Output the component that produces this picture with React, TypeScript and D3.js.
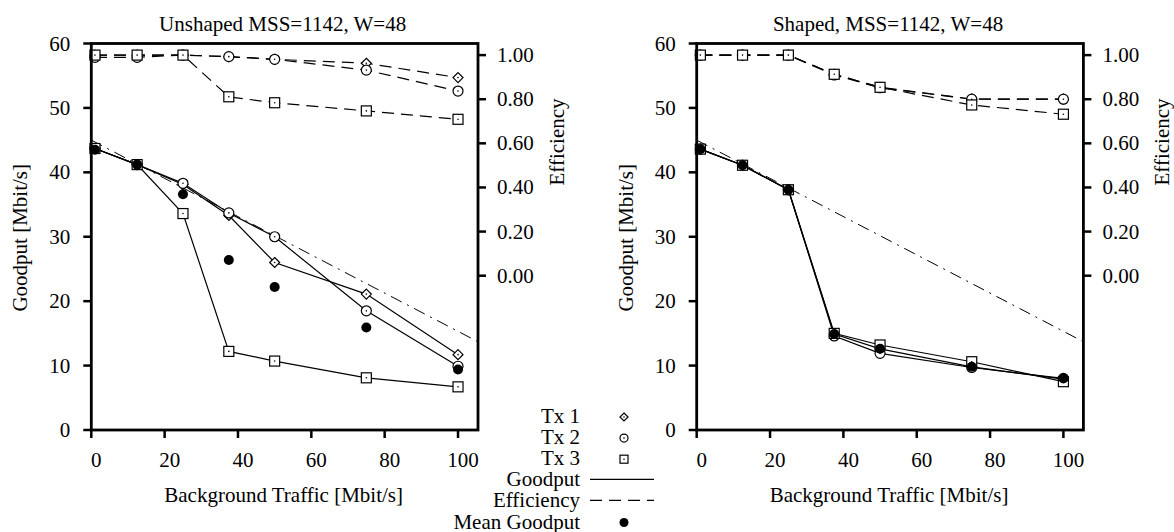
import React from "react";
import * as d3 from "d3";

// background traffic [Mbit/s] of each measurement
const bgTraffic = [1, 12.5, 25, 37.5, 50, 75, 100];

// unshaped
const goodputTx1U = [43.7, 41.2, 38.1, 33.3, 26.0, 21.1, 11.7];
const goodputTx2U = [43.7, 41.2, 38.3, 33.7, 30.0, 18.5, 9.9];
const goodputTx3U = [43.7, 41.2, 33.6, 12.2, 10.7, 8.1, 6.7];
const meanGoodputU = [43.5, 41.2, 36.6, 26.4, 22.2, 15.9, 9.4];
const effTx1U = [1.0, 1.0, 1.0, 0.993, 0.981, 0.963, 0.898];
const effTx2U = [0.99, 0.99, 1.0, 0.993, 0.981, 0.932, 0.837];
const effTx3U = [1.0, 1.0, 1.0, 0.811, 0.784, 0.747, 0.709];

// shaped
const goodputTx1S = [43.6, 41.1, 37.3, 14.9, 12.6, 9.8, 7.9];
const goodputTx2S = [43.6, 41.1, 37.3, 14.6, 11.9, 9.7, 8.0];
const goodputTx3S = [43.6, 41.1, 37.3, 15.0, 13.2, 10.6, 7.5];
const meanGoodputS = [43.6, 41.1, 37.3, 14.9, 12.6, 9.8, 8.0];
const effTx1S = [1.0, 1.0, 1.0, 0.913, 0.854, 0.801, 0.8];
const effTx2S = [1.0, 1.0, 1.0, 0.91, 0.852, 0.8, 0.8];
const effTx3S = [1.0, 1.0, 1.0, 0.913, 0.854, 0.774, 0.732];

// reference (available capacity) line
const refX = [0, 105.45];
const refY = [45, 13.7];

const xTicks = [0, 20, 40, 60, 80, 100];
const goodputTicks = [0, 10, 20, 30, 40, 50, 60];
const effTicks = [0, 0.2, 0.4, 0.6, 0.8, 1.0];

const legendLabels = ["Tx 1", "Tx 2", "Tx 3", "Goodput", "Efficiency", "Mean Goodput"];

const FONT = "'Liberation Serif', 'Times New Roman', serif";
const FS = 21;
const DASH = "12,7";
const DASHDOT = "12,6,2,6";

type Shape = "diamond" | "circle" | "square";

function Marker({ x, y, shape, s }: { x: number; y: number; shape: Shape; s: number }) {
  const dot = <circle cx={x} cy={y} r={0.8} fill="black" />;
  if (shape === "diamond") {
    return (
      <g>
        <path d={`M${x},${y - s}L${x + s},${y}L${x},${y + s}L${x - s},${y}Z`} fill="white" stroke="black" strokeWidth={1.2} />
        {dot}
      </g>
    );
  }
  if (shape === "circle") {
    return (
      <g>
        <circle cx={x} cy={y} r={s} fill="white" stroke="black" strokeWidth={1.2} />
        {dot}
      </g>
    );
  }
  return (
    <g>
      <rect x={x - s} y={y - s} width={2 * s} height={2 * s} fill="white" stroke="black" strokeWidth={1.2} />
      {dot}
    </g>
  );
}

function Panel({ ox, title, goodput, eff, mean }: { ox: number; title: string; goodput: number[][]; eff: number[][]; mean: number[] }) {
  const left = 91.3 + ox;
  const right = 478 + ox;
  const top = 43.5;
  const bottom = 430;

  const x = d3.scaleLinear().domain([0, 105.45]).range([left, right]);
  const y = d3.scaleLinear().domain([0, 60]).range([bottom, top]);
  const ye = d3.scaleLinear().domain([-0.6995, 1.0526]).range([bottom, top]);

  const lineG = d3.line<number>().x((_, i) => x(bgTraffic[i])).y((d) => y(d));
  const lineE = d3.line<number>().x((_, i) => x(bgTraffic[i])).y((d) => ye(d));
  const refLine = d3.line<number>().x((_, i) => x(refX[i])).y((d) => y(d));
  const shapes: Shape[] = ["diamond", "circle", "square"];

  return (
    <g fontFamily={FONT} fontSize={FS} fill="black">
      <text x={(left + right) / 2 - 2} y={31} textAnchor="middle">{title}</text>

      {/* goodput lines */}
      {goodput.map((s, k) => (
        <path key={"g" + k} d={lineG(s) || ""} fill="none" stroke="black" strokeWidth={1.2} />
      ))}
      {/* efficiency lines */}
      {eff.map((s, k) => (
        <path key={"e" + k} d={lineE(s) || ""} fill="none" stroke="black" strokeWidth={1.2} strokeDasharray={DASH} />
      ))}
      <path d={refLine(refY) || ""} fill="none" stroke="black" strokeWidth={1} strokeDasharray={DASHDOT} />

      {goodput.map((s, k) =>
        s.map((v, i) => <Marker key={`gm${k}-${i}`} x={x(bgTraffic[i])} y={y(v)} shape={shapes[k]} s={5} />)
      )}
      {eff.map((s, k) =>
        s.map((v, i) => <Marker key={`em${k}-${i}`} x={x(bgTraffic[i])} y={ye(v)} shape={shapes[k]} s={5} />)
      )}
      {mean.map((v, i) => (
        <circle key={"m" + i} cx={x(bgTraffic[i])} cy={y(v)} r={5} fill="black" />
      ))}

      {/* frame */}
      <rect x={left} y={top} width={right - left} height={bottom - top} fill="none" stroke="black" strokeWidth={2.8} />

      {/* bottom axis */}
      {xTicks.map((t) => (
        <g key={"x" + t}>
          <line x1={x(t)} x2={x(t)} y1={bottom} y2={bottom + 8} stroke="black" strokeWidth={2.5} />
          <text x={x(t) + 5} y={466.5} textAnchor="middle">{t}</text>
        </g>
      ))}
      <text x={(left + right) / 2 - 1} y={502} textAnchor="middle">Background Traffic [Mbit/s]</text>

      {/* left axis */}
      {goodputTicks.map((t) => (
        <g key={"y" + t}>
          <line x1={left - 8} x2={left} y1={y(t)} y2={y(t)} stroke="black" strokeWidth={2.5} />
          <text x={left - 21} y={y(t) + 7} textAnchor="end">{t}</text>
        </g>
      ))}
      <text transform={`translate(${left - 64},${(top + bottom) / 2 + 1}) rotate(-90)`} textAnchor="middle">Goodput [Mbit/s]</text>

      {/* right axis */}
      {effTicks.map((t) => (
        <g key={"e" + t}>
          <line x1={right} x2={right + 8} y1={ye(t)} y2={ye(t)} stroke="black" strokeWidth={2.5} />
          <text x={right + 19} y={ye(t) + 7} textAnchor="start">{t.toFixed(2)}</text>
        </g>
      ))}
      <text transform={`translate(${right + 86},${142}) rotate(-90)`} textAnchor="middle">Efficiency</text>
    </g>
  );
}

function Legend() {
  const tx = 580;
  const base = 423;
  const step = 21.1;
  const shapes: Shape[] = ["diamond", "circle", "square"];
  return (
    <g fontFamily={FONT} fontSize={FS} fill="black">
      {legendLabels.map((l, i) => {
        const by = base + i * step;
        return (
          <g key={l}>
            <text x={tx} y={by} textAnchor="end">{l}</text>
            {i < 3 && <Marker x={624} y={by - 6} shape={shapes[i]} s={4} />}
            {i === 3 && <line x1={590} x2={654} y1={by - 7} y2={by - 7} stroke="black" strokeWidth={1.2} />}
            {i === 4 && <line x1={590} x2={654} y1={by - 7} y2={by - 7} stroke="black" strokeWidth={1.2} strokeDasharray={DASH} />}
            {i === 5 && <circle cx={624} cy={by - 6} r={4.5} fill="black" />}
          </g>
        );
      })}
    </g>
  );
}

export default function App() {
  return (
    <svg width={1174} height={532} style={{ position: "absolute", left: 0, top: 0, background: "white" }}>
      <Panel
        ox={0}
        title="Unshaped MSS=1142, W=48"
        goodput={[goodputTx1U, goodputTx2U, goodputTx3U]}
        eff={[effTx1U, effTx2U, effTx3U]}
        mean={meanGoodputU}
      />
      <Panel
        ox={605.4}
        title="Shaped, MSS=1142, W=48"
        goodput={[goodputTx1S, goodputTx2S, goodputTx3S]}
        eff={[effTx1S, effTx2S, effTx3S]}
        mean={meanGoodputS}
      />
      <Legend />
    </svg>
  );
}
